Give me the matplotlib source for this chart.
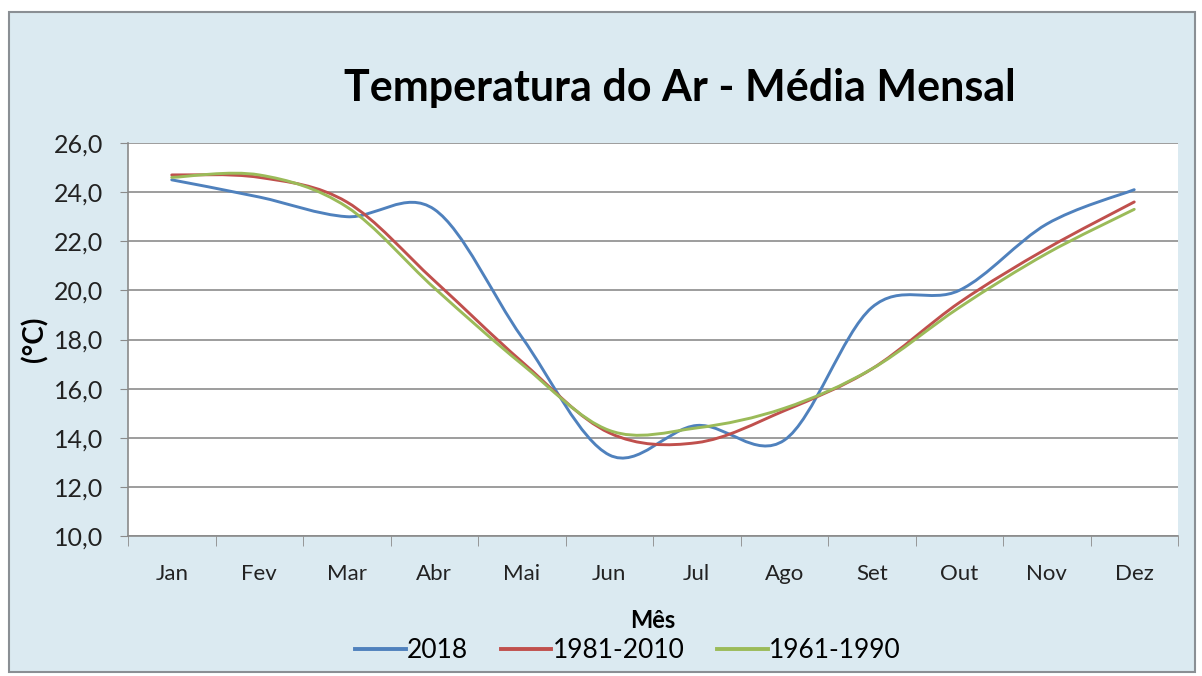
import numpy as np
import matplotlib
matplotlib.use("Agg")
import matplotlib.pyplot as plt
from matplotlib.path import Path
from matplotlib.patches import PathPatch, Rectangle
from matplotlib.lines import Line2D
from matplotlib.ticker import FuncFormatter

plt.rcParams['font.family'] = ['Lato', 'DejaVu Sans']

# Dados
meses = ["Jan", "Fev", "Mar", "Abr", "Mai", "Jun", "Jul", "Ago", "Set", "Out", "Nov", "Dez"]
temp_2018 = [24.5, 23.8, 23.0, 23.3, 18.1, 13.3, 14.5, 13.9, 19.3, 20.0, 22.7, 24.1]
temp_1981_2010 = [24.7, 24.6, 23.6, 20.4, 17.1, 14.2, 13.8, 15.1, 16.8, 19.5, 21.7, 23.6]
temp_1961_1990 = [24.6, 24.7, 23.4, 20.1, 17.0, 14.3, 14.4, 15.2, 16.8, 19.3, 21.5, 23.3]

series = [
    ("2018", temp_2018, "#4f81bd"),
    ("1981-2010", temp_1981_2010, "#c0504d"),
    ("1961-1990", temp_1961_1990, "#9bbb59"),
]


def smooth_path(xs, ys):
    """Curva suavizada estilo Excel (Bezier cúbica tipo Catmull-Rom)."""
    pts = np.column_stack([xs, ys]).astype(float)
    n = len(pts)
    verts = [pts[0]]
    codes = [Path.MOVETO]
    for i in range(n - 1):
        p0 = pts[i - 1] if i > 0 else pts[i]
        p1 = pts[i]
        p2 = pts[i + 1]
        p3 = pts[i + 2] if i + 2 < n else pts[i + 1]
        c1 = p1 + (p2 - p0) / 6.0
        c2 = p2 - (p3 - p1) / 6.0
        verts += [c1, c2, p2]
        codes += [Path.CURVE4] * 3
    return Path(verts, codes)


fig = plt.figure(figsize=(12.02, 6.76), dpi=100)
fig.patch.set_facecolor("white")

# fundo azul claro com borda (área do gráfico)
bg = fig.add_axes([0, 0, 1, 1], zorder=-5)
bg.axis("off")
bg.set_xlim(0, 1)
bg.set_ylim(0, 1)
bg.add_patch(Rectangle((9 / 1202, 1 - 672 / 676), 1186 / 1202, 660 / 676,
                       facecolor="#dbeaf1", edgecolor="#8a8f94", linewidth=1.5))

ax = fig.add_axes([128 / 1202, 1 - 536 / 676, 1050 / 1202, 393 / 676])
ax.set_facecolor("white")

x = np.arange(len(meses)) + 0.5
handles = []
for label, vals, color in series:
    patch = PathPatch(smooth_path(x, vals), facecolor="none", edgecolor=color,
                      linewidth=2.1, capstyle="round", joinstyle="round", zorder=3)
    ax.add_patch(patch)
    handles.append(Line2D([], [], color=color, linewidth=2.8))

ax.set_xlim(0, 12)
ax.set_ylim(10, 26)
ax.set_yticks(np.arange(10, 27, 2))
ax.yaxis.set_major_formatter(FuncFormatter(lambda v, p: f"{v:.1f}".replace(".", ",")))
ax.set_xticks(x)
ax.set_xticklabels(meses)
ax.set_xticks(np.arange(0, 13), minor=True)
ax.tick_params(axis="x", which="major", length=0, pad=20, labelsize=16, colors="#222222")
ax.tick_params(axis="x", which="minor", length=7, color="#8a8a8a", direction="out")
ax.tick_params(axis="y", length=6, color="#8a8a8a", labelsize=18, colors="#222222", pad=12)
ax.grid(axis="y", color="#8c8c8c", linewidth=1.2)
ax.set_axisbelow(True)
for side in ["top", "right"]:
    ax.spines[side].set_visible(False)
for side in ["left", "bottom"]:
    ax.spines[side].set_color("#8a8a8a")
    ax.spines[side].set_linewidth(1.2)

fig.text(0.566, 1 - 88 / 676, "Temperatura do Ar - Média Mensal", ha="center", va="center",
         fontsize=31, fontweight="bold", color="black")
ax.set_xlabel("Mês", fontsize=17, fontweight="bold", labelpad=18)
ax.set_ylabel("(°C)", fontsize=20, fontweight="bold", labelpad=4)

fig.legend(handles, [s[0] for s in series], loc="center", bbox_to_anchor=(0.5225, 1 - 651 / 676),
           ncol=3, frameon=False, fontsize=19, handlelength=1.9, handletextpad=0.05,
           columnspacing=1.25)

fig.savefig("out.png", dpi=100)
